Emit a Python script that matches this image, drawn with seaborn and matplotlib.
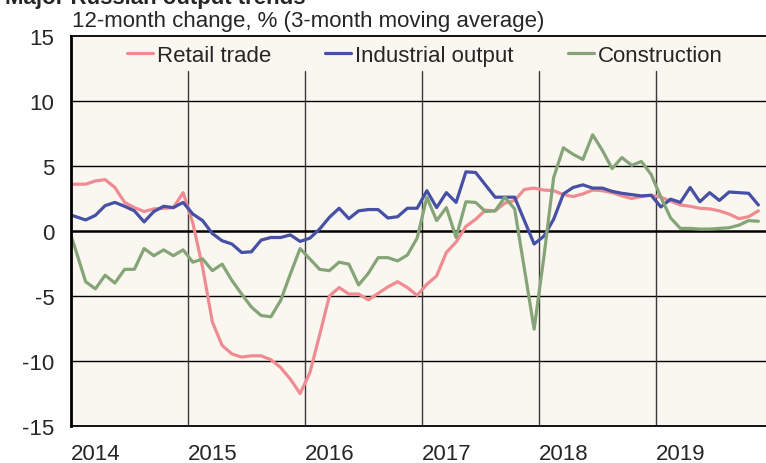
import numpy as np
import pandas as pd
import seaborn as sns
import matplotlib.pyplot as plt

# monthly data, Dec 2013 .. Nov 2019 (3-month moving average, % y/y)
months = pd.period_range('2013-12', '2019-11', freq='M')

retail = [3.6, 3.6, 3.6, 3.85, 3.95, 3.35, 2.2, 1.8, 1.5, 1.7, 1.75, 1.8, 2.95,
          0.6, -2.8, -7.0, -8.8, -9.45, -9.7, -9.6, -9.6, -9.9, -10.5, -11.4, -12.5,
          -10.9, -8.0, -5.0, -4.35, -4.85, -4.85, -5.3, -4.8, -4.3, -3.9, -4.35, -4.95,
          -4.1, -3.45, -1.65, -0.85, 0.35, 0.9, 1.6, 1.55, 2.15, 2.35, 3.2, 3.3,
          3.15, 3.1, 2.8, 2.65, 2.85, 3.15, 3.1, 2.95, 2.7, 2.5, 2.65, 2.75,
          2.6, 2.3, 2.0, 1.9, 1.75, 1.7, 1.55, 1.3, 0.95, 1.1, 1.55]
industry = [1.35, 1.1, 0.85, 1.2, 1.95, 2.2, 1.9, 1.55, 0.7, 1.5, 1.9, 1.8, 2.2,
            1.3, 0.8, -0.2, -0.75, -1.0, -1.65, -1.6, -0.7, -0.5, -0.5, -0.3, -0.8,
            -0.55, 0.15, 1.05, 1.75, 0.95, 1.55, 1.65, 1.65, 1.0, 1.1, 1.75, 1.75,
            3.1, 1.8, 2.95, 2.2, 4.55, 4.5, 3.55, 2.6, 2.6, 2.6, 0.8, -1.0,
            -0.4, 0.9, 2.85, 3.35, 3.55, 3.3, 3.3, 3.05, 2.9, 2.8, 2.7, 2.75,
            1.85, 2.45, 2.2, 3.35, 2.25, 2.95, 2.35, 3.0, 2.95, 2.9, 2.0]
construction = [0.8, -1.5, -3.9, -4.45, -3.4, -4.0, -2.95, -2.95, -1.35, -1.9, -1.45, -1.9, -1.45,
                -2.4, -2.15, -3.05, -2.55, -3.8, -4.85, -5.85, -6.5, -6.6, -5.35, -3.3, -1.35,
                -2.15, -2.95, -3.05, -2.4, -2.55, -4.15, -3.25, -2.05, -2.05, -2.3, -1.85, -0.55,
                2.6, 0.8, 1.8, -0.5, 2.25, 2.2, 1.5, 1.55, 2.6, 1.7, -2.9, -7.55,
                -2.0, 4.1, 6.4, 5.9, 5.5, 7.4, 6.2, 4.8, 5.65, 5.05, 5.35, 4.35,
                2.6, 1.0, 0.2, 0.2, 0.15, 0.15, 0.2, 0.25, 0.45, 0.8, 0.75]

series = ['Retail trade', 'Industrial output', 'Construction']
colours = ['#F08C91', '#4650A5', '#85A578']
years = [2014, 2015, 2016, 2017, 2018, 2019]
yticks = [-15, -10, -5, 0, 5, 10, 15]
bg = '#FAF6F0'

x = months.year + (months.month - 0.5) / 12
df = pd.DataFrame({
    'x': np.tile(x, 3),
    'value': retail + industry + construction,
    'series': np.repeat(series, len(months)),
})

sns.set_theme(style='white')
plt.rcParams['font.family'] = ['Liberation Sans', 'DejaVu Sans']
plt.rcParams['axes.unicode_minus'] = False

fig = plt.figure(figsize=(7.66, 4.64), dpi=100)
ax = fig.add_axes([71 / 766, 1 - 427 / 464, 695 / 766, 390 / 464])
ax.set_facecolor(bg)

for v in [-10, -5, 5, 10]:
    ax.axhline(v, color='black', lw=1, zorder=1)
ax.axhline(0, color='black', lw=1.8, zorder=1.5)
for yr in years[1:]:
    ax.axvline(yr, ymin=0, ymax=(12.3 + 15) / 30, color='#3a3a3a', lw=1, zorder=1)

sns.lineplot(data=df, x='x', y='value', hue='series', hue_order=series,
             palette=colours, linewidth=2.3, sort=False, estimator=None, ax=ax)

ax.set_xlim(2014, 2014 + 695 / 117)
ax.set_ylim(-15, 15)
ax.set_xticks(years, [str(y) for y in years], ha='left')
ax.set_yticks(yticks)
ax.tick_params(axis='x', length=0, labelsize=16, pad=12.5)
ax.tick_params(axis='y', length=0, labelsize=16, pad=12)
ax.set_xlabel('')
ax.set_ylabel('')

ax.spines['right'].set_visible(False)
ax.spines['left'].set_linewidth(2)
ax.spines['top'].set_linewidth(1.3)
ax.spines['bottom'].set_linewidth(1.3)
for s in ['left', 'top', 'bottom']:
    ax.spines[s].set_color('black')

ax.legend(ncol=3, frameon=False, loc='upper left', bbox_to_anchor=(0.08, 0.977),
          fontsize=16, handlelength=1.17, handletextpad=0.18, columnspacing=2.45,
          borderpad=0, borderaxespad=0)

fig.text(72 / 766, 1 - 27 / 464, '12-month change, % (3-month moving average)',
         fontsize=16, va='baseline')
fig.text(5 / 766, 1 - 4 / 464, 'Major Russian output trends',
         fontsize=16, fontweight='bold', va='baseline')

fig.savefig('out.png', dpi=100)
